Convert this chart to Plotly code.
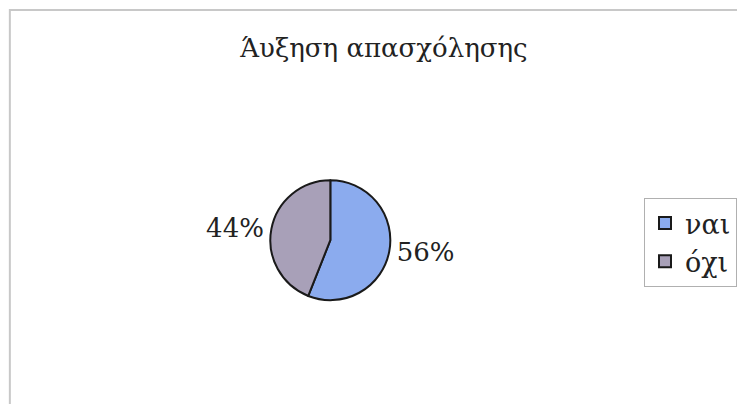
import plotly.graph_objects as go

labels = ["ναι", "όχι"]
values = [56, 44]
colors = ["#8BABEE", "#A8A0B8"]
title = "Άυξηση απασχόλησης"

W, H = 737, 404
SERIF = "DejaVu Serif"
fig = go.Figure(go.Pie(
    labels=labels, values=values, sort=False, direction="clockwise", rotation=0,
    marker=dict(colors=colors, line=dict(color="#1a1a1a", width=2)),
    textposition="outside", texttemplate="%{percent:.0%}",
    textfont=dict(family=SERIF, size=26, color="#222"),
    domain=dict(x=[0.305, 0.605], y=[0.257, 0.554]),
    showlegend=True,
))
fig.update_layout(
    width=W, height=H, margin=dict(l=0, r=0, t=0, b=0),
    paper_bgcolor="white",
    title=dict(text=title, x=384 / W, xanchor="center", y=1 - 48 / H, yanchor="middle",
               font=dict(family=SERIF, size=26, color="#222")),
    legend=dict(x=654 / W, xanchor="left", y=1 - 198 / H, yanchor="top",
                bordercolor="#b0b0b0", borderwidth=1, bgcolor="white",
                font=dict(family=SERIF, size=27, color="#222"),
                itemwidth=30, tracegroupgap=6),
    shapes=[dict(type="rect", xref="paper", yref="paper", x0=10 / W, x1=1.05,
                 y0=-0.05, y1=1 - 10 / H, line=dict(color="#c8c8c8", width=2))],
)
fig.write_html("out.html", config=dict(displayModeBar=False),
               post_script="document.body.style.margin='0';document.body.style.overflow='hidden';")
